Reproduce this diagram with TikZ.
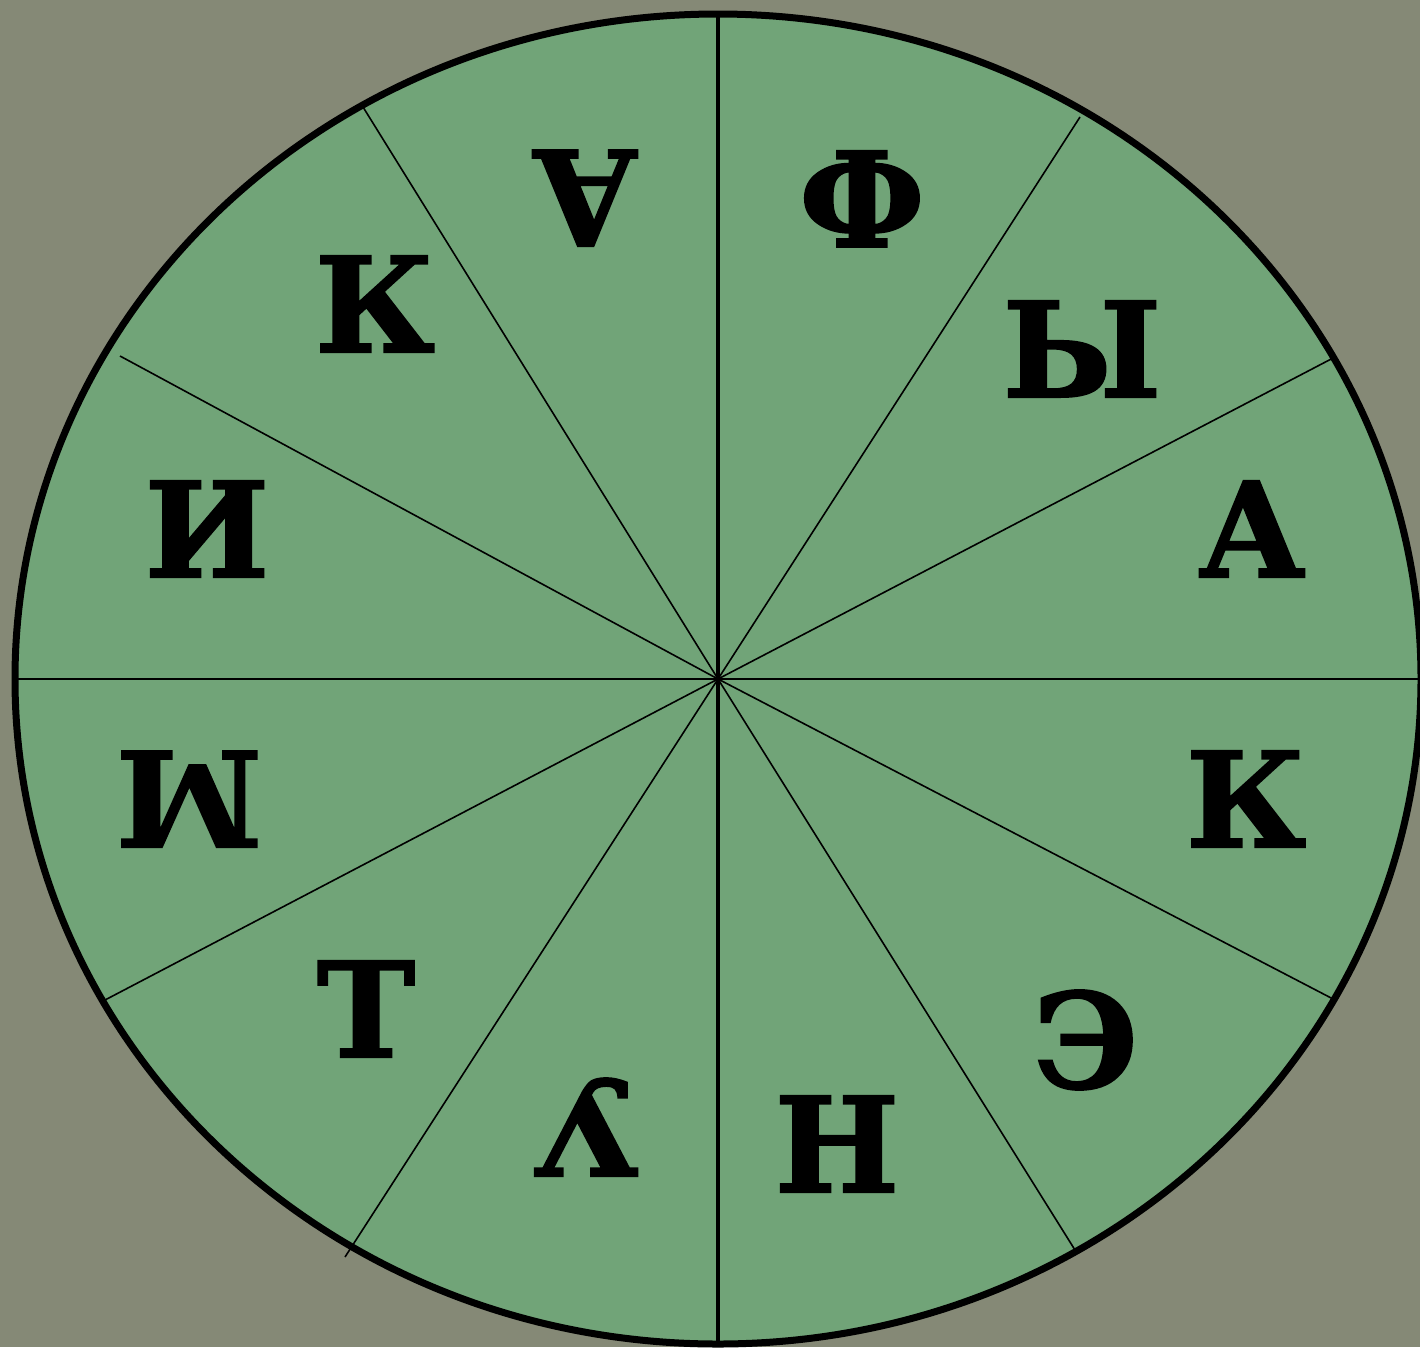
\documentclass[tikz,border=0pt]{standalone}
\usepackage{fontspec}
\setmainfont{DejaVu Serif}
\newfontfamily\heavyslab{DejaVu Serif}[UprightFont=*, BoldFont=* Bold, BoldFeatures={FakeBold=1.5}]
\definecolor{bg}{RGB}{133,137,118}
\definecolor{wheel}{RGB}{113,164,120}
\begin{document}
\begin{tikzpicture}[x=1pt,y=-1pt,
  letter/.style={font=\heavyslab\fontsize{132}{132}\selectfont\bfseries, inner sep=0pt, text height=96pt, text depth=0pt},
  spoke/.style={line width=1.6pt},
  axis/.style={line width=2pt},
  vaxis/.style={line width=3.5pt}]
\useasboundingbox (0,0) rectangle (1420,1347);
\clip (0,0) rectangle (1420,1347);
\fill[bg] (0,0) rectangle (1420,1347);
\coordinate (c) at (718,679);
\fill[wheel] (c) ellipse [x radius=703, y radius=665];
% spoke ends
\coordinate (top) at (718,12);
\coordinate (bot) at (718,1346);
\coordinate (lft) at (14,679);
\coordinate (rgt) at (1422,679);
\coordinate (a1) at (363,107);
\coordinate (a2) at (1080,117);
\coordinate (a3) at (1335,357);
\coordinate (a4) at (120,356);
\coordinate (b1) at (105,1000);
\coordinate (b2) at (1335,1000);
\coordinate (b3) at (345,1257);
\coordinate (b4) at (1075,1250);
\draw[vaxis] (top) -- (bot);
\draw[axis] (lft) -- (rgt);
\foreach \p in {a1,a2,a3,a4,b1,b2,b3,b4} \draw[spoke] (c) -- (\p);
\draw[line width=7pt] (c) ellipse [x radius=703, y radius=665];
% letters
\node[letter, rotate=180] (l1) at (585,198) {А};
\node[letter] (l2) at (862,199) {Ф};
\node[letter] (l3) at (1082,349) {Ы};
\node[letter] (l4) at (1252,529) {А};
\node[letter] (l5) at (1246,799) {К};
\node[letter] (l6) at (1086,1040) {Э};
\node[letter] (l7) at (837,1144) {Н};
\node[letter, rotate=180] (l8) at (587,1128) {У};
\node[letter] (l9) at (366,1009) {Т};
\node[letter, rotate=180] (l10) at (189,799) {М};
\node[letter] (l11) at (207,529) {И};
\node[letter] (l12) at (375,304) {К};
\end{tikzpicture}
\end{document}
